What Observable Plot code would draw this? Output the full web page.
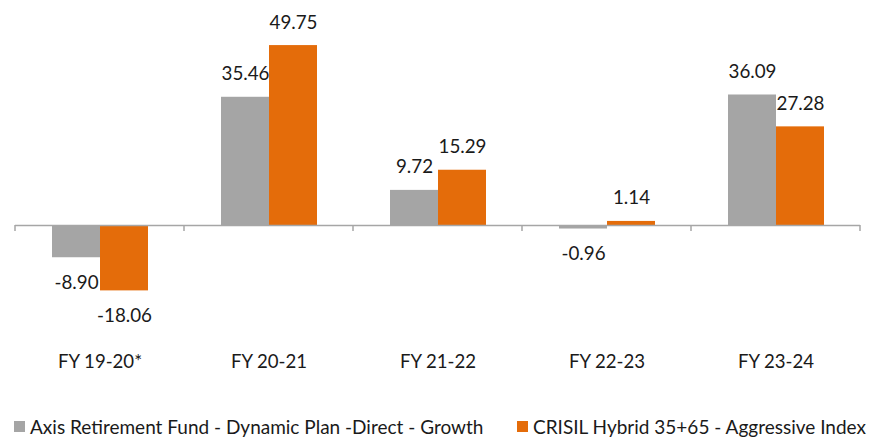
<!DOCTYPE html>
<html>
<head>
<meta charset="utf-8">
<script src="https://cdn.jsdelivr.net/npm/d3@7"></script>
<script src="https://cdn.jsdelivr.net/npm/@observablehq/plot@0.6"></script>
<style>
  html, body { margin: 0; padding: 0; background: #fff; }
  #wrap { position: relative; width: 871px; height: 437px; overflow: hidden; font-family: Lato, "Open Sans", sans-serif; }
  #legend { position: absolute; left: 0; top: 417px; width: 871px; height: 19px; font-size: 19px; line-height: 19px; color: #1a1a1a; }
  .item { position: absolute; top: 0; height: 19px; display: flex; align-items: center; white-space: nowrap; }
  .sw { width: 11px; height: 11px; margin-right: 5px; }
</style>
</head>
<body>
<div id="wrap"><div id="chart"></div><div id="legend"></div></div>
<script>
const categories = ["FY 19-20*", "FY 20-21", "FY 21-22", "FY 22-23", "FY 23-24"];
const seriesNames = ["Axis Retirement Fund - Dynamic Plan -Direct - Growth", "CRISIL Hybrid 35+65 - Aggressive Index"];
const fundValues = [-8.90, 35.46, 9.72, -0.96, 36.09];
const indexValues = [-18.06, 49.75, 15.29, 1.14, 27.28];
const colors = ["#A5A5A5", "#E46C0A"];

const rows = [];
categories.forEach((c, i) => {
  rows.push({cat: c, series: seriesNames[0], value: fundValues[i]});
  rows.push({cat: c, series: seriesNames[1], value: indexValues[i]});
});
const fundRows = rows.filter(d => d.series === seriesNames[0]);
const indexRows = rows.filter(d => d.series === seriesNames[1]);
const fmt = d => d.value.toFixed(2);

const boundaryTicks = (index, scales, values, dims) => {
  const x = scales.x, y = scales.y;
  let bw = typeof x.bandwidth === "function" ? x.bandwidth() : x.bandwidth;
  if (!bw) bw = (dims.width - dims.marginLeft - dims.marginRight) / categories.length;
  const xs = categories.map(c => x(c));
  xs.push(x(categories[categories.length - 1]) + bw);
  const y0 = y(0);
  const g = d3.create("svg:g").attr("stroke", "#A6A6A6").attr("stroke-width", 1.5);
  xs.forEach(v => g.append("line").attr("x1", v).attr("x2", v).attr("y1", y0).attr("y2", y0 + 6));
  return g.node();
};

const txt = {fontSize: 18.8, fill: "#1a1a1a"};
const chart = Plot.plot({
  width: 871,
  height: 390,
  marginLeft: 15,
  marginRight: 11,
  marginTop: 8,
  marginBottom: 92.6,
  style: {fontFamily: "Lato, 'Open Sans', sans-serif", fontSize: "18px", color: "#1a1a1a", background: "#fff"},
  x: {domain: categories, padding: 0, label: null},
  y: {domain: [-20, 60], axis: null},
  marks: [
    Plot.barY(fundRows, {x: "cat", y: "value", fill: colors[0], insetLeft: 37, insetRight: 84}),
    Plot.barY(indexRows, {x: "cat", y: "value", fill: colors[1], insetLeft: 85, insetRight: 36}),
    Plot.ruleY([0], {stroke: "#A6A6A6", strokeWidth: 1.5}),
    boundaryTicks,
    Plot.text(fundRows.filter(d => d.value >= 0), {x: "cat", y: "value", text: fmt, dx: -23.5, lineAnchor: "bottom", dy: -17, ...txt}),
    Plot.text(indexRows.filter(d => d.value >= 0), {x: "cat", y: "value", text: fmt, dx: 24.5, lineAnchor: "bottom", dy: -17, ...txt}),
    Plot.text(fundRows.filter(d => d.value < 0), {x: "cat", y: "value", text: fmt, dx: -23.5, lineAnchor: "top", dy: 18, ...txt}),
    Plot.text(indexRows.filter(d => d.value < 0), {x: "cat", y: "value", text: fmt, dx: 24.5, lineAnchor: "top", dy: 18, ...txt}),
    Plot.axisX({anchor: "bottom", tickSize: 0, tickPadding: 57, fontSize: 18.6, label: null})
  ]
});
document.getElementById("chart").appendChild(chart);

const legend = document.getElementById("legend");
const lefts = [14, 517];
seriesNames.forEach((name, i) => {
  const it = document.createElement("div");
  it.className = "item";
  it.style.left = lefts[i] + "px";
  const sw = document.createElement("span");
  sw.className = "sw";
  sw.style.background = colors[i];
  const t = document.createElement("span");
  t.textContent = name;
  it.appendChild(sw); it.appendChild(t);
  legend.appendChild(it);
});
</script>
</body>
</html>
